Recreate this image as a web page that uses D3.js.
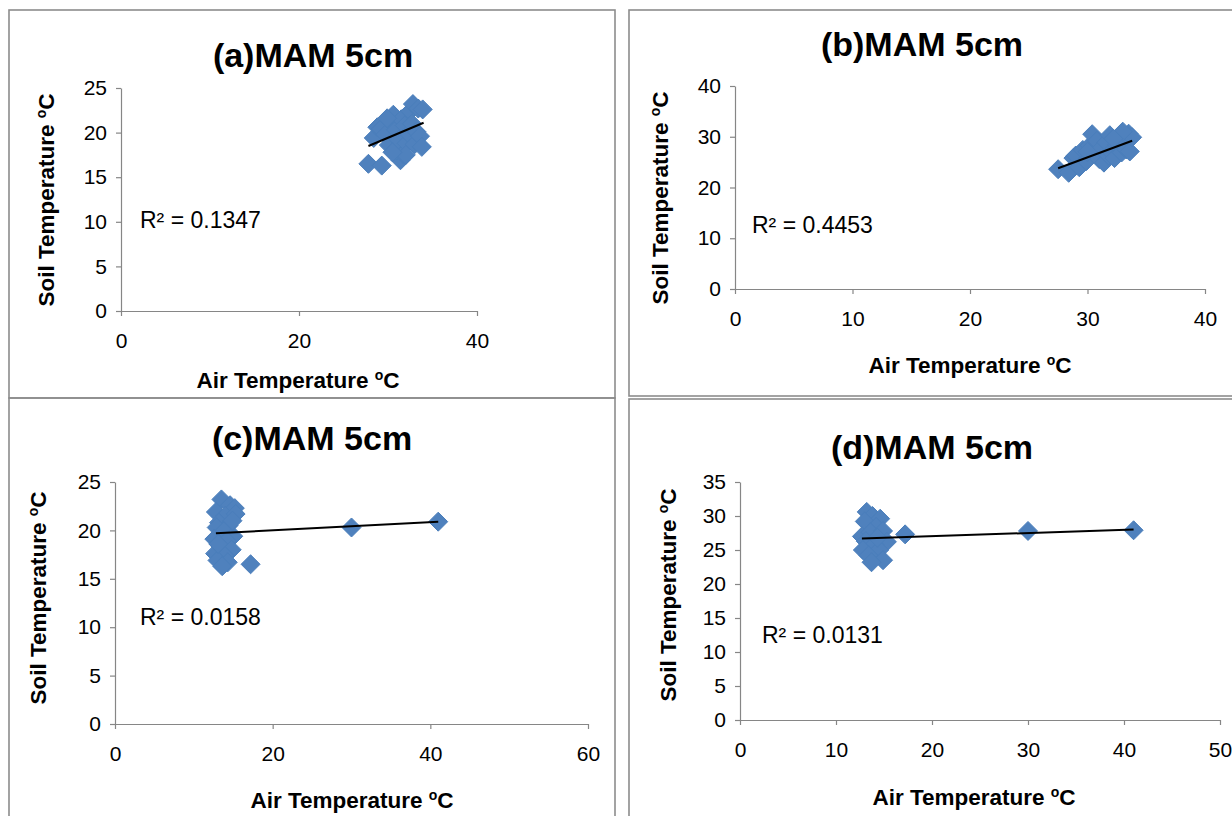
<!DOCTYPE html>
<html>
<head>
<meta charset="utf-8">
<script src="https://cdn.jsdelivr.net/npm/d3@7"></script>
<style>
  html, body { margin: 0; padding: 0; background: #fff; }
  svg { display: block; font-family: "Liberation Sans", Arial, sans-serif; }
</style>
</head>
<body>
<svg id="chart" width="1232" height="816"></svg>
<script>
// values
const airA = [27.8, 29.3, 31.4, 28.4, 28.8, 29.2, 29.7, 30.1, 30.3, 30.6, 30.9, 31.0, 31.2, 31.5, 31.7, 31.9, 32.1, 32.3, 32.5, 32.7, 32.8, 33.0, 33.2, 33.4, 33.6, 33.8, 33.9, 32.0, 30.5, 29.9];
const soilA = [16.5, 16.3, 16.9, 19.4, 20.6, 20.4, 19.8, 18.6, 21.2, 22.0, 20.3, 18.0, 19.2, 21.5, 17.6, 20.8, 18.8, 19.9, 22.4, 21.0, 23.2, 18.7, 20.1, 22.7, 19.6, 18.4, 22.6, 17.5, 17.8, 21.6];
const trendA = [[27.8, 18.5], [34.0, 21.1]];

const airB = [27.5, 28.4, 28.8, 29.0, 29.3, 29.6, 29.9, 30.2, 30.4, 30.6, 30.8, 31.0, 31.2, 31.4, 31.6, 31.8, 32.0, 32.3, 32.5, 32.7, 32.9, 33.1, 33.3, 33.5, 33.6, 33.8, 31.9, 30.0, 33.0, 32.2];
const soilB = [23.6, 22.9, 25.8, 26.3, 24.0, 27.4, 25.2, 28.3, 30.5, 26.7, 29.2, 25.6, 27.8, 24.9, 28.9, 26.3, 27.0, 25.8, 28.4, 30.1, 26.9, 29.4, 27.5, 30.6, 27.1, 29.9, 30.3, 27.0, 31.0, 29.6];
const trendB = [[27.5, 23.8], [33.8, 29.2]];

const airC = [13.5, 14.6, 15.2, 12.8, 14.0, 15.3, 13.2, 14.4, 12.9, 13.8, 15.0, 12.6, 14.2, 13.4, 14.8, 12.7, 13.9, 13.0, 14.3, 13.6, 14.9, 13.1, 17.2, 30.0, 41.0];
const soilC = [23.2, 22.6, 22.3, 21.9, 21.5, 21.7, 20.8, 20.5, 20.3, 19.9, 19.4, 19.1, 18.9, 18.3, 18.0, 17.6, 17.4, 16.9, 16.7, 16.3, 21.0, 18.6, 16.5, 20.3, 20.9];
const trendC = [[12.8, 19.7], [41.0, 20.9]];

const airD = [13.2, 13.8, 14.6, 13.0, 14.2, 12.7, 13.6, 14.9, 15.3, 13.1, 14.0, 12.8, 14.5, 13.4, 14.9, 13.7, 14.3, 17.2, 30.0, 41.0];
const soilD = [30.6, 30.0, 29.6, 29.2, 28.4, 27.0, 27.6, 27.8, 26.2, 26.3, 25.8, 25.0, 25.0, 24.2, 23.5, 23.2, 26.8, 27.3, 27.8, 27.9];
const trendD = [[12.7, 26.7], [41.0, 28.0]];

const titles = ["(a)MAM 5cm", "(b)MAM 5cm", "(c)MAM 5cm", "(d)MAM 5cm"];
const r2Labels = ["0.1347", "0.4453", "0.0158", "0.0131"];
const xDomains = [[0, 40], [0, 40], [0, 60], [0, 50]];
const yDomains = [[0, 25], [0, 40], [0, 25], [0, 35]];
const xSteps = [20, 10, 20, 10];
const ySteps = [5, 10, 5, 5];

// layout of each panel (pixels)
const panels = [
  { box: [9, 10, 606, 388], xr: [121, 477], yr: [311, 88], title: [313, 67], xt: [298, 388], yt: [54, 200], r2: [140, 228] },
  { box: [629, 10, 620, 386], xr: [735, 1205], yr: [289, 86], title: [922, 56], xt: [970, 373], yt: [668, 198], r2: [752, 233] },
  { box: [9, 398, 606, 430], xr: [115, 588], yr: [724, 482], title: [312, 450], xt: [352, 808], yt: [46, 598], r2: [140, 625] },
  { box: [629, 399, 620, 430], xr: [740, 1220], yr: [720, 482], title: [932, 459], xt: [974, 805], yt: [676, 595], r2: [762, 643] }
];
const series = [[airA, soilA, trendA], [airB, soilB, trendB], [airC, soilC, trendC], [airD, soilD, trendD]];

const svg = d3.select("#chart");
const diamond = "M0,-9.5L9.5,0L0,9.5L-9.5,0Z";

panels.forEach((p, i) => {
  const [air, soil, trend] = series[i];
  const g = svg.append("g");

  g.append("rect")
    .attr("x", p.box[0]).attr("y", p.box[1])
    .attr("width", p.box[2]).attr("height", p.box[3])
    .attr("fill", "none").attr("stroke", "#8c8c8c").attr("stroke-width", 1.6);

  const x = d3.scaleLinear().domain(xDomains[i]).range(p.xr);
  const y = d3.scaleLinear().domain(yDomains[i]).range(p.yr);

  const xTicks = d3.range(xDomains[i][0], xDomains[i][1] + 0.001, xSteps[i]);
  const yTicks = d3.range(yDomains[i][0], yDomains[i][1] + 0.001, ySteps[i]);

  const xAxis = g.append("g")
    .attr("transform", `translate(0,${p.yr[0]})`)
    .call(d3.axisBottom(x).tickValues(xTicks).tickSize(5).tickPadding(17).tickSizeOuter(0));
  const yAxis = g.append("g")
    .attr("transform", `translate(${p.xr[0]},0)`)
    .call(d3.axisLeft(y).tickValues(yTicks).tickSize(5).tickPadding(9).tickSizeOuter(0));

  [xAxis, yAxis].forEach(a => {
    a.select(".domain").attr("stroke", "#868686").attr("stroke-width", 1.2);
    a.selectAll(".tick line").attr("stroke", "#868686").attr("stroke-width", 1.2);
    a.selectAll(".tick text")
      .attr("fill", "#000")
      .style("font-size", "21px")
      .style("font-family", "'Liberation Sans', Arial, sans-serif");
  });

  // markers
  g.append("g").selectAll("path")
    .data(air.map((v, k) => [v, soil[k]]))
    .join("path")
    .attr("d", diamond)
    .attr("transform", d => `translate(${x(d[0])},${y(d[1])})`)
    .attr("fill", "#4F81BD")
    .attr("stroke", "#4A7EBB")
    .attr("stroke-width", 1);

  // linear trendline
  g.append("path")
    .datum(trend)
    .attr("d", d3.line().x(d => x(d[0])).y(d => y(d[1])))
    .attr("stroke", "#000").attr("stroke-width", 2).attr("fill", "none");

  // title
  g.append("text")
    .attr("x", p.title[0]).attr("y", p.title[1])
    .attr("text-anchor", "middle")
    .style("font-size", "34px").style("font-weight", "bold")
    .text(titles[i]);

  // x axis title
  const xt = g.append("text")
    .attr("x", p.xt[0]).attr("y", p.xt[1])
    .attr("text-anchor", "middle")
    .style("font-size", "22.5px").style("font-weight", "bold");
  xt.append("tspan").text("Air Temperature ");
  xt.append("tspan").attr("dy", -8).style("font-size", "14px").text("o");
  xt.append("tspan").attr("dy", 8).text("C");

  // y axis title
  const yt = g.append("text")
    .attr("transform", `translate(${p.yt[0]},${p.yt[1]}) rotate(-90)`)
    .attr("text-anchor", "middle")
    .style("font-size", "22.5px").style("font-weight", "bold");
  yt.append("tspan").text("Soil Temperature ");
  yt.append("tspan").attr("dy", -8).style("font-size", "14px").text("o");
  yt.append("tspan").attr("dy", 8).text("C");

  // R squared label
  g.append("text")
    .attr("x", p.r2[0]).attr("y", p.r2[1])
    .style("font-size", "23px")
    .text(`R\u00B2 = ${r2Labels[i]}`);
});
</script>
</body>
</html>
